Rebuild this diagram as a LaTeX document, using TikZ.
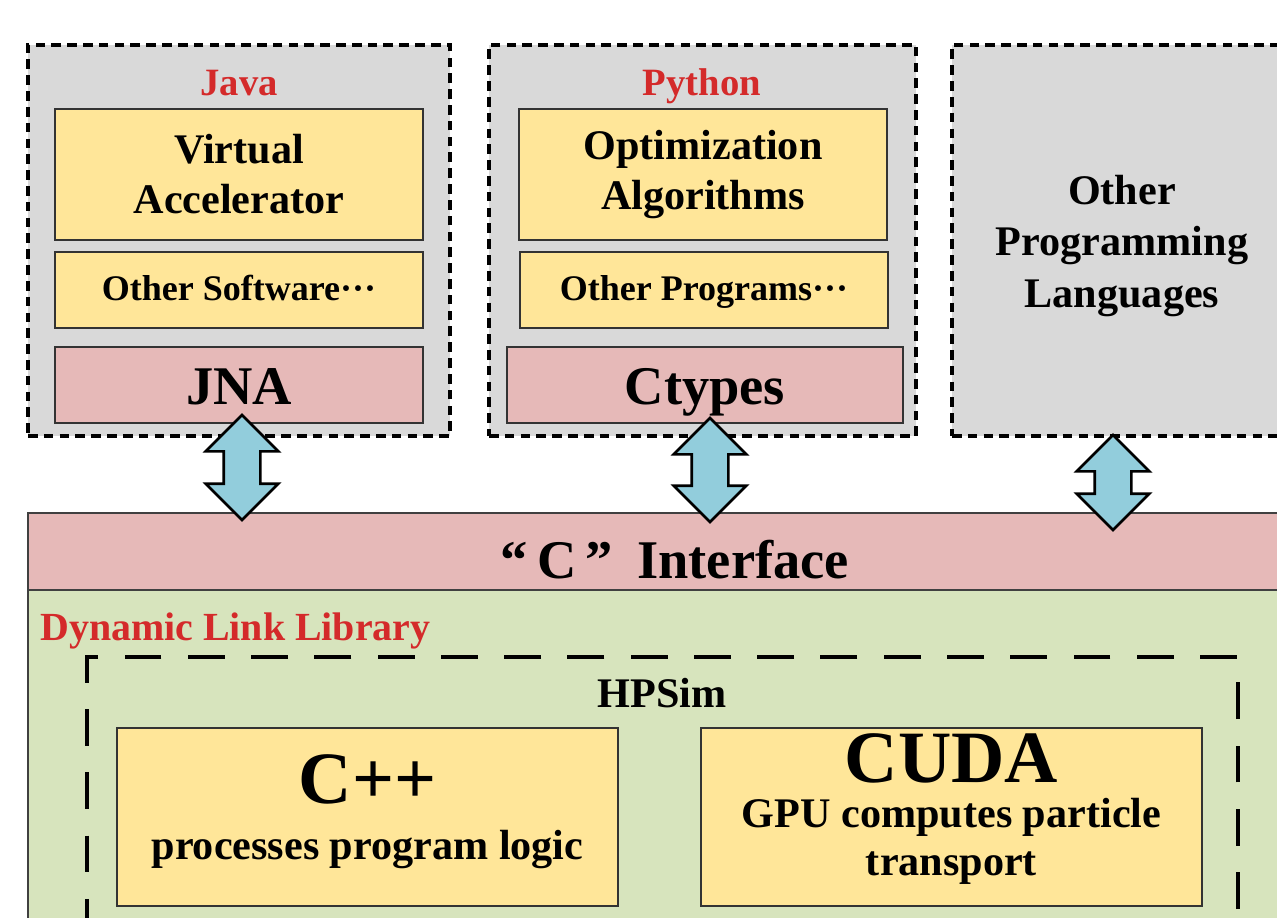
\documentclass[tikz,border=0pt]{standalone}
\usepackage{fontspec}
\setmainfont{Liberation Serif}
\usetikzlibrary{shapes.arrows}

\definecolor{langgray}{HTML}{D9D9D9}
\definecolor{modyellow}{HTML}{FFE699}
\definecolor{ifacepink}{HTML}{E6B9B8}
\definecolor{dllgreen}{HTML}{D7E4BD}
\definecolor{callblue}{HTML}{92CDDC}
\definecolor{labelred}{HTML}{D42A2A}

% bold text at a given size / baseline skip
\newcommand{\fsz}[2]{\fontsize{#1}{#2}\selectfont\bfseries}

\tikzset{
  langbox/.style={draw=black, fill=langgray, line width=2.8pt,
    dash pattern=on 5.5pt off 3.5pt, minimum height=78.2mm, inner sep=0pt},
  modbox/.style={draw=black!80, fill=modyellow, line width=1pt,
    minimum width=73.6mm, align=center, inner sep=0pt},
  smallmod/.style={modbox, minimum height=15.2mm, font=\fsz{20.5}{24},
    text height=12.5pt, text depth=0pt},
  bindbox/.style={draw=black!80, fill=ifacepink, line width=1pt,
    minimum height=15.2mm, font=\fsz{31}{34}, inner sep=0pt,
    text height=22pt, text depth=0pt},
  callarrow/.style={draw=black, fill=callblue, line width=1.5pt,
    double arrow, rotate=90, minimum width=14mm,
    double arrow head extend=3.6mm, inner xsep=0pt, inner ysep=3.4mm},
  corebox/.style={draw=black!80, fill=modyellow, line width=1pt,
    minimum width=100.2mm, minimum height=35.6mm},
  redtitle/.style={text=labelred, font=\fsz{22}{26}, inner sep=0pt},
  plain/.style={inner sep=0pt, anchor=base}
}

\begin{document}
\begin{tikzpicture}[x=0.2mm, y=-0.2mm]
\clip (0,0) rectangle (1277,917);
\fill[white] (0,0) rectangle (1277,917);

% language layer
\node[langbox, minimum width=84.4mm] (java) at (239,240.5) {};
\node[langbox, minimum width=85.4mm] (python) at (702.5,240.5) {};
\node[langbox, minimum width=68mm] (other) at (1122,240.5) {};
\node[align=center, font=\fsz{24}{29.5}] (othert) at (1122,246) {Other\\Programming\\Languages};

\node[redtitle, anchor=base] (javat) at (239,95) {Java};
\node[modbox, minimum height=26.2mm, font=\fsz{24}{28.5}] (va) at (239,174.5) {Virtual\\Accelerator};
\node[smallmod] (osw) at (239,290) {Other Software···};
\node[bindbox, minimum width=73.6mm] (jna) at (239,385) {JNA};

\node[redtitle, anchor=base] (pyt) at (702,95) {Python};
\node[modbox, minimum height=26.2mm, font=\fsz{24}{28.5}] (opt) at (703,174.5) {Optimization\\Algorithms};
\node[smallmod] (oprog) at (704,290) {Other Programs···};
\node[bindbox, minimum width=79.2mm] (ctypes) at (705,385) {Ctypes};

% dynamic link library with the C interface on top
\node[draw=black!75, fill=dllgreen, line width=0.8pt, minimum width=258.8mm,
  minimum height=74mm] (dll) at (675,775) {};
\node[draw=black!75, fill=ifacepink, line width=1.2pt, minimum width=258.8mm,
  minimum height=15.4mm] (iface) at (675,551.5) {};
\node[plain, font=\fsz{31}{34}] (ifacet) at (675,578) {“\,C\,”\hspace{0.45em}Interface};
\node[redtitle, font=\fsz{22.7}{26}, anchor=base west] (dllt) at (40,640) {Dynamic Link Library};

% HPSim core
\node[draw=black, line width=2.3pt, dash pattern=on 21pt off 15pt,
  minimum width=230.2mm, minimum height=60.6mm] (hpsim) at (662.5,808.5) {};
\node[plain, font=\fsz{24}{28}] (hpsimt) at (662,707) {HPSim};

\node[corebox] (cpp) at (367.5,817) {};
\node[plain, font=\fsz{42}{46}] (cppt) at (367.5,803) {C++};
\node[plain, font=\fsz{24}{28}] (cppd) at (367.5,859) {processes program logic};

\node[corebox] (cuda) at (951.5,817) {};
\node[plain, font=\fsz{42}{46}] (cudat) at (951.5,782) {CUDA};
\node[plain, font=\fsz{24}{28}] (cudad) at (951.5,827) {GPU computes particle};
\node[plain, font=\fsz{24}{28}] (cudae) at (951.5,875) {transport};

% calls into the C interface
\node[callarrow, minimum height=21mm] (jcall) at (242,467.5) {};
\node[callarrow, minimum height=20.8mm] (pcall) at (710,470) {};
\node[callarrow, minimum height=19mm] (ocall) at (1113,482.5) {};
\end{tikzpicture}
\end{document}
